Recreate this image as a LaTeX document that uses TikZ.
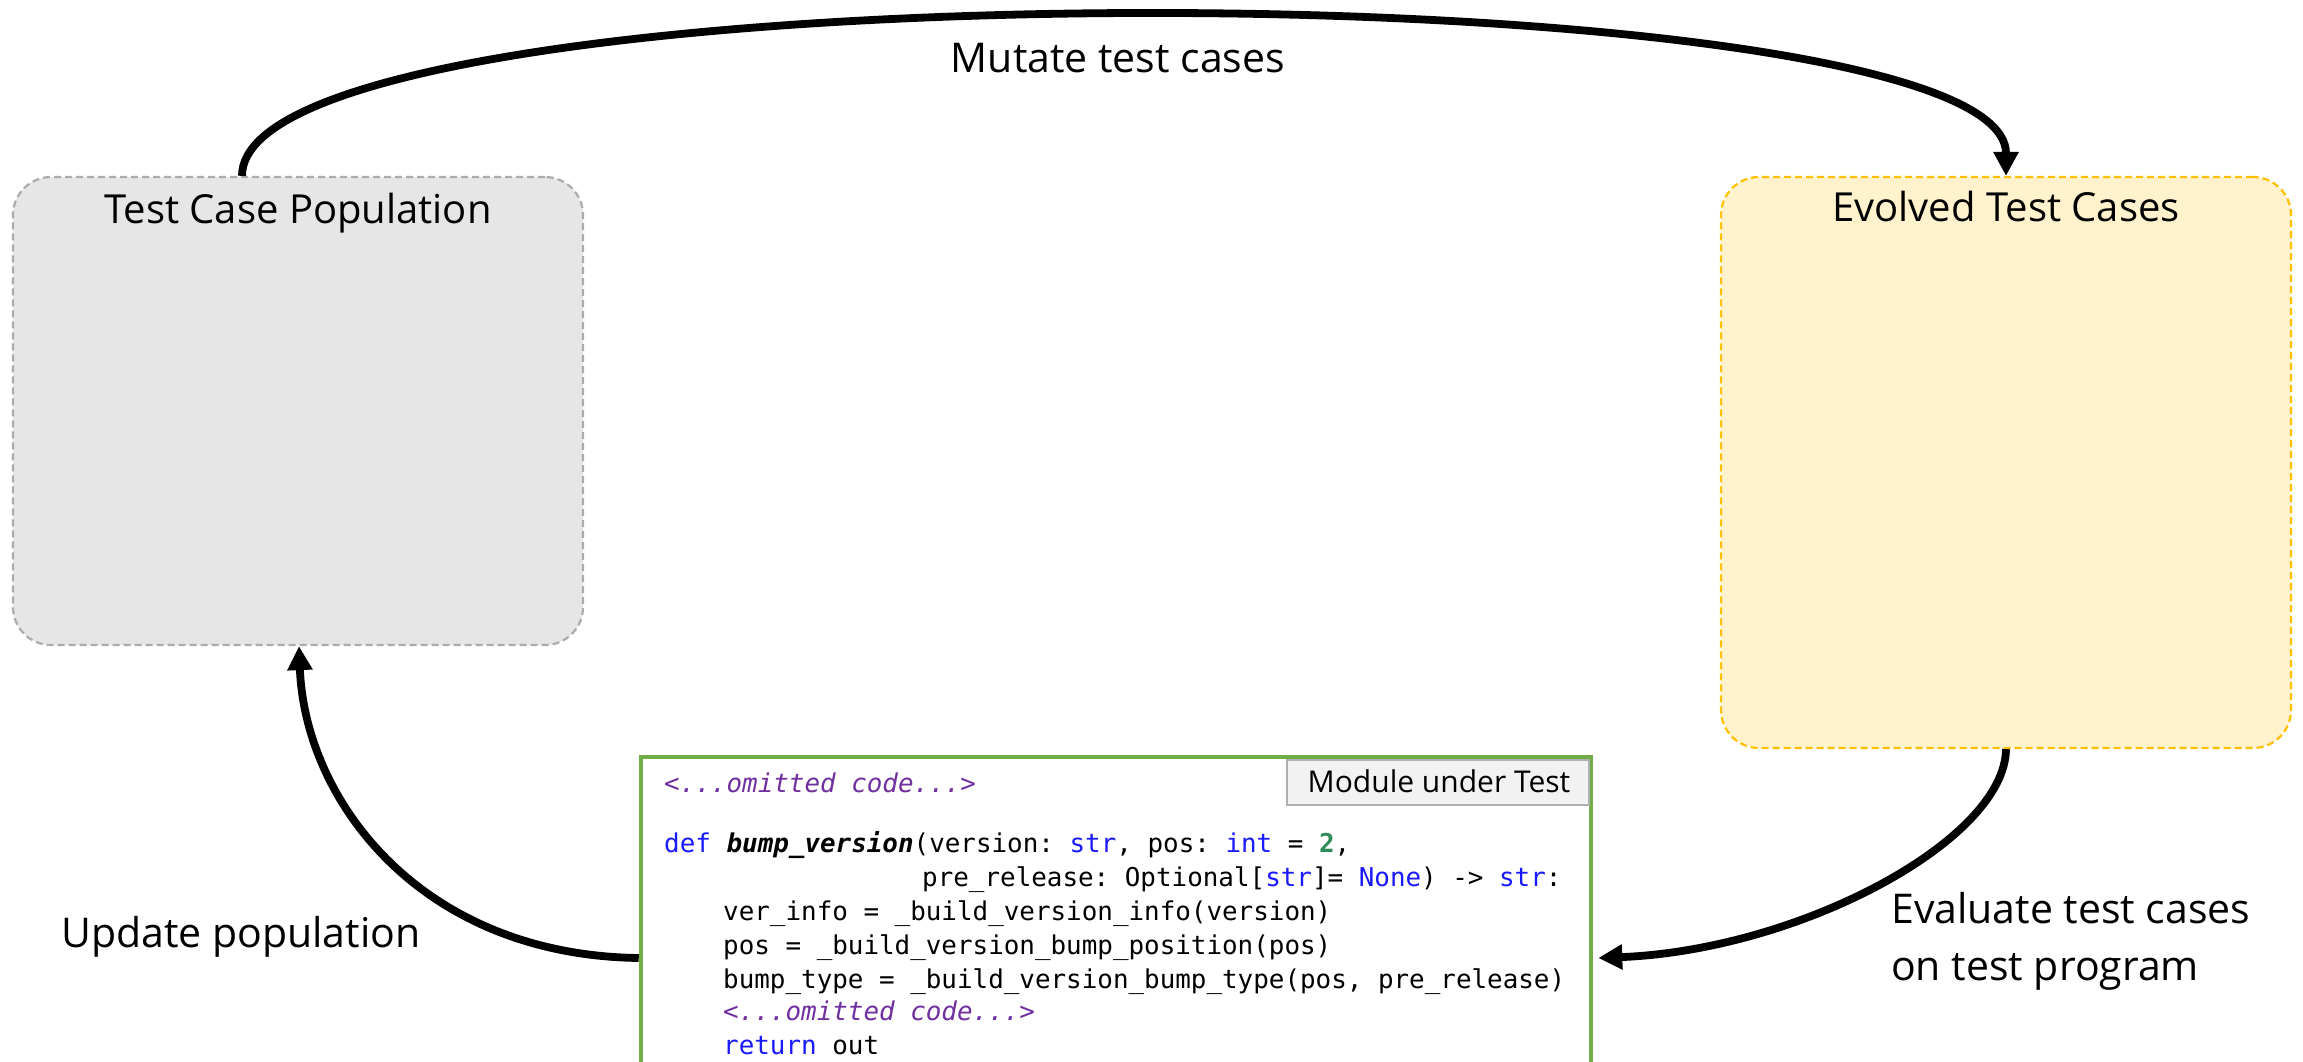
\documentclass[tikz,border=0pt]{standalone}
\usepackage{fontspec}
\setmainfont{Open Sans}
\newfontfamily\codefont{DejaVu Sans Mono}
\usetikzlibrary{calc,arrows.meta}

\definecolor{popfill}{HTML}{E6E6E6}
\definecolor{popline}{HTML}{ABABAB}
\definecolor{evofill}{HTML}{FFF2CC}
\definecolor{evoline}{HTML}{FFC000}
\definecolor{codegreen}{HTML}{70AD47}
\definecolor{kwblue}{HTML}{1A1AFF}
\definecolor{numgreen}{HTML}{2E8B57}
\definecolor{omitpurple}{HTML}{7030A0}
\definecolor{tagfill}{HTML}{F2F2F2}
\definecolor{tagline}{HTML}{B0B0B0}

\newcommand\kw[1]{\textcolor{kwblue}{#1}}
\newcommand\omittedcode{\textcolor{omitpurple}{\itshape <...omitted code...>}}

\tikzset{
  group/.style={draw, dashed, dash pattern=on 7pt off 4pt, line width=2.2pt,
    rounded corners=38pt, inner sep=0pt, minimum width=570pt},
  grouptitle/.style={anchor=base, inner sep=0pt, font=\fontsize{40}{48}\selectfont},
  steplabel/.style={inner sep=0pt, font=\fontsize{41}{49}\selectfont},
  flow/.style={line width=7.8pt, -{Triangle[length=24pt,width=24pt]}},
  codeline/.style={anchor=base west, inner sep=0pt,
    font=\codefont\fontsize{25.9}{31}\selectfont\frenchspacing},
}

\begin{document}
\begin{tikzpicture}[x=1pt,y=-1pt]
  \useasboundingbox (0,0) rectangle (2303,1061);

  % population and evolved sets
  \node[group, draw=popline, fill=popfill, minimum height=468pt] (pop) at (298,411) {};
  \node[grouptitle] (poptitle) at (298,223) {Test Case Population};
  \node[group, draw=evoline, fill=evofill, minimum height=571pt] (evo) at (2006,462.5) {};
  \node[grouptitle] (evotitle) at (2006,221) {Evolved Test Cases};

  % module under test
  \node[draw=codegreen, line width=4.5pt, fill=white, inner sep=0pt,
        minimum width=950pt, minimum height=330pt] (mut) at (1116,922) {};
  \node[draw=tagline, fill=tagfill, line width=2pt, inner sep=0pt,
        minimum width=302pt, minimum height=45pt] (tag) at (1438,782) {};
  \node[anchor=base, inner sep=0pt, font=\fontsize{30}{36}\selectfont] (tagtext) at (1439,792) {Module under Test};

  \node[codeline] (c1) at (664,792) {\omittedcode};
  \node[codeline] (c2) at (664,852) {\kw{def} \textbf{\textit{bump\_version}}(version: \kw{str}, pos: \kw{int} = \textcolor{numgreen}{\textbf{2}},};
  \node[codeline] (c3) at (922,886) {pre\_release: Optional[\kw{str}]= \kw{None}) -> \kw{str}:};
  \node[codeline] (c4) at (723,920) {ver\_info = \_build\_version\_info(version)};
  \node[codeline] (c5) at (723,954) {pos = \_build\_version\_bump\_position(pos)};
  \node[codeline] (c6) at (723,988) {bump\_type = \_build\_version\_bump\_type(pos, pre\_release)};
  \node[codeline] (c7) at (723,1020) {\omittedcode};
  \node[codeline] (c8) at (723,1054) {\kw{return} out};

  % step labels
  \node[steplabel, anchor=base] (mutlabel) at (1118,72) {Mutate test cases};
  \node[steplabel, anchor=base west] (updlabel) at (61,947) {Update population};
  \node[steplabel, anchor=base west] (evallabel1) at (1891,923) {Evaluate test cases};
  \node[steplabel, anchor=base west] (evallabel2) at (1891,980) {on test program};

  % evolutionary loop
  \draw[flow] ($(pop.north)+(-56,0)$) .. controls (242,-40) and (2006,-35) .. (evo.north);
  \draw[flow] (evo.south) .. controls (2005,840) and (1800,950) .. ($(mut.east)+(5,36)$);
  \draw[flow] ($(mut.west)+(0,36)$) .. controls (420,955) and (305,800) .. ($(pop.south)+(1,0)$);
\end{tikzpicture}
\end{document}
